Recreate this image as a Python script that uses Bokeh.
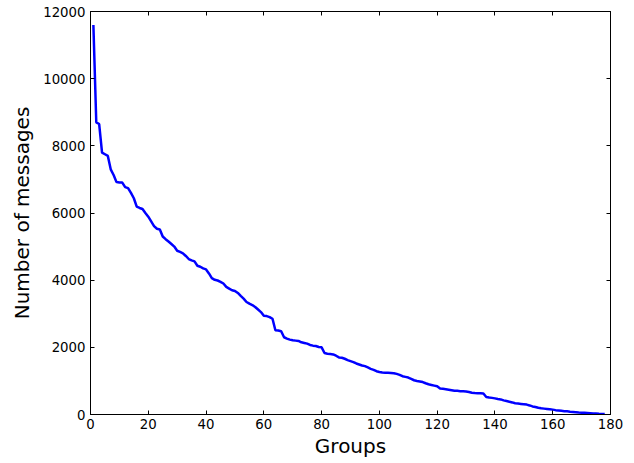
from bokeh.plotting import figure
from bokeh.models import Range1d, FixedTicker, LinearAxis
from bokeh.embed import file_html
from bokeh.resources import INLINE

groups = list(range(1, 179))
messages = [
    11600, 8700, 8650, 7800, 7750, 7700, 7300, 7130, 6920, 6910,
    6905, 6770, 6740, 6600, 6440, 6190, 6150, 6120, 6000, 5890,
    5750, 5610, 5530, 5510, 5300, 5220, 5150, 5075, 5000, 4875,
    4840, 4800, 4720, 4630, 4590, 4560, 4430, 4400, 4350, 4320,
    4200, 4060, 4010, 3990, 3950, 3900, 3800, 3750, 3700, 3680,
    3620, 3530, 3450, 3350, 3300, 3260, 3200, 3125, 3050, 2940,
    2930, 2900, 2850, 2510, 2500, 2480, 2300, 2260, 2230, 2210,
    2200, 2190, 2150, 2130, 2110, 2070, 2050, 2040, 2010, 2000,
    1830, 1810, 1800, 1790, 1750, 1700, 1690, 1660, 1620, 1590,
    1560, 1520, 1490, 1460, 1440, 1400, 1360, 1330, 1290, 1265,
    1250, 1245, 1240, 1235, 1230, 1210, 1180, 1140, 1120, 1100,
    1060, 1020, 1000, 985, 965, 930, 900, 880, 860, 840,
    775, 765, 755, 740, 725, 710, 705, 695, 690, 685,
    670, 650, 640, 635, 630, 625, 520, 505, 495, 480,
    460, 450, 420, 400, 380, 360, 335, 325, 315, 305,
    295, 270, 240, 225, 200, 185, 175, 165, 155, 145,
    130, 120, 110, 100, 95, 85, 78, 70, 62, 55,
    50, 45, 40, 32, 27, 22, 18, 15,
]
x_ticks = [0, 20, 40, 60, 80, 100, 120, 140, 160, 180]
y_ticks = [0, 2000, 4000, 6000, 8000, 10000, 12000]

p = figure(width=634, height=463, output_backend="svg", toolbar_location=None,
           x_range=Range1d(0, 180), y_range=Range1d(0, 12000),
           min_border_left=90, min_border_right=24, min_border_top=11, min_border_bottom=49)
p.background_fill_color = "white"
p.border_fill_color = "white"
p.outline_line_color = "black"
p.outline_line_width = 1
p.outline_line_alpha = 1
p.xgrid.visible = False
p.ygrid.visible = False

p.line(groups, messages, line_color="#0000ff", line_width=2.5)

FONT = "DejaVu Sans"

def style(ax, ticks, labels=True):
    ax.ticker = FixedTicker(ticks=ticks)
    ax.major_tick_in = 4
    ax.major_tick_out = 0
    ax.minor_tick_in = 0
    ax.minor_tick_out = 0
    ax.axis_line_color = "black"
    ax.major_tick_line_color = "black"
    ax.major_label_text_font = FONT
    if labels:
        ax.major_label_text_font_size = "13.3px"
        ax.major_label_text_color = "black"
    else:
        ax.major_label_text_font_size = "1px"
        ax.major_label_text_color = None
        ax.major_label_standoff = 0

xa = p.xaxis[0]
ya = p.yaxis[0]
style(xa, x_ticks)
style(ya, y_ticks)
xa.major_label_standoff = 4
ya.major_label_standoff = 5
xa.axis_label = "Groups"
ya.axis_label = "Number of messages"
for ax in (xa, ya):
    ax.axis_label_text_font = FONT
    ax.axis_label_text_font_size = "20px"
    ax.axis_label_text_font_style = "normal"
    ax.axis_label_text_color = "black"
xa.axis_label_standoff = 2
ya.axis_label_standoff = 6

top = LinearAxis()
style(top, x_ticks, labels=False)
p.add_layout(top, "above")
right = LinearAxis()
style(right, y_ticks, labels=False)
p.add_layout(right, "right")

open("out.html", "w").write(file_html(p, INLINE))
